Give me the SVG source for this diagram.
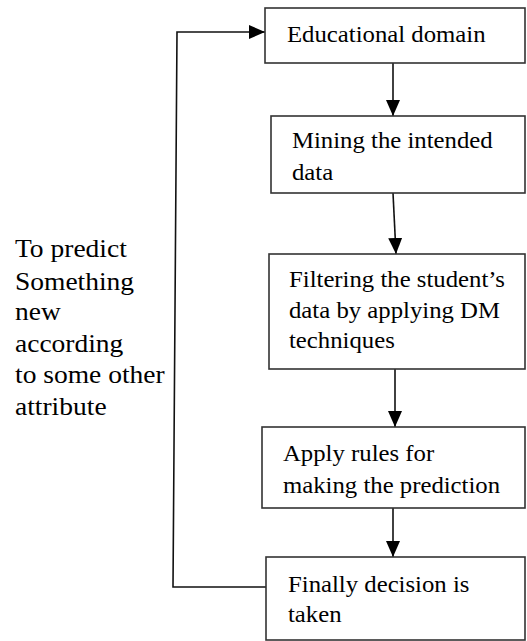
<svg xmlns="http://www.w3.org/2000/svg" width="527" height="641" viewBox="0 0 527 641">
<style>
.box{fill:#fff;stroke:#333;stroke-width:1.6}
.t{font-family:'Liberation Serif','Times New Roman',serif;font-size:22.5px;fill:#000}
.l{font-family:'Liberation Serif','Times New Roman',serif;font-size:25px;fill:#000}
.c{fill:none;stroke:#111;stroke-width:1.6}
</style>
<defs>
<marker id="ah" markerUnits="userSpaceOnUse" markerWidth="16" markerHeight="14" refX="16" refY="7" orient="auto">
<path d="M0,0 L16,7 L0,14 Z" fill="#000"/>
</marker>
</defs>
<rect width="527" height="641" fill="#fff"/>
<g id="connectors">
<line class="c" x1="393" y1="63" x2="393" y2="116" marker-end="url(#ah)"/>
<line class="c" x1="393" y1="193" x2="396" y2="254" marker-end="url(#ah)"/>
<line class="c" x1="395" y1="369" x2="395" y2="427" marker-end="url(#ah)"/>
<line class="c" x1="393" y1="508" x2="393" y2="557" marker-end="url(#ah)"/>
<polyline class="c" points="266,587 173,587 177,32 265,32" marker-end="url(#ah)"/>
</g>
<g id="n1"><rect class="box" x="265" y="8" width="260" height="55"/><text class="t" transform="translate(287,42) scale(1.1,1)">Educational domain</text></g>
<g id="n2"><rect class="box" x="271" y="116" width="254" height="77"/><text class="t" transform="translate(292,148) scale(1.1,1)">Mining the intended</text><text class="t" transform="translate(292,180) scale(1.1,1)">data</text></g>
<g id="n3"><rect class="box" x="269" y="254" width="256" height="115"/><text class="t" transform="translate(289,287) scale(1.1,1)">Filtering the student’s</text><text class="t" transform="translate(289,318) scale(1.1,1)">data by applying DM</text><text class="t" transform="translate(289,348) scale(1.1,1)">techniques</text></g>
<g id="n4"><rect class="box" x="262" y="427" width="263" height="81"/><text class="t" transform="translate(283,461) scale(1.1,1)">Apply rules for</text><text class="t" transform="translate(283,493) scale(1.1,1)">making the prediction</text></g>
<g id="n5"><rect class="box" x="266" y="557" width="259" height="83"/><text class="t" transform="translate(288,592) scale(1.1,1)">Finally decision is</text><text class="t" transform="translate(288,622) scale(1.1,1)">taken</text></g>
<g id="label">
<text class="l" transform="translate(15,257) scale(1.1,1)">To predict</text>
<text class="l" transform="translate(15,290) scale(1.1,1)">Something</text>
<text class="l" transform="translate(15,320) scale(1.1,1)">new</text>
<text class="l" transform="translate(15,352) scale(1.1,1)">according</text>
<text class="l" transform="translate(15,383) scale(1.1,1)">to some other</text>
<text class="l" transform="translate(15,415) scale(1.1,1)">attribute</text>
</g>
</svg>
